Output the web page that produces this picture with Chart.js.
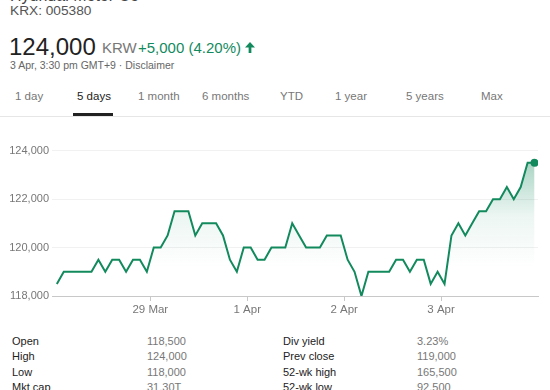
<!DOCTYPE html>
<html>
<head>
  <title>KRX 005380 - 5 days</title>
  <style>
    body {
      margin: 0;
      padding: 0;
      width: 550px;
      height: 390px;
      overflow: hidden;
      background-color: #fff;
      font-family: Arial, "Liberation Sans", sans-serif;
      position: relative;
    }

    .abs { position: absolute; white-space: nowrap; }

    .title { left: 10px; top: -13px; font-size: 16px; color: #444; }
    .ticker { left: 10px; top: 3px; font-size: 13.7px; color: #555; }
    .price { left: 9px; top: 33px; font-size: 24px; color: #222; }
    .currency { left: 102px; top: 39px; font-size: 15px; color: #777; }
    .change { left: 138px; top: 39px; font-size: 15px; color: #138a5e; }
    .stamp { left: 10px; top: 59px; font-size: 10.5px; color: #666; }

    .tab { top: 90px; font-size: 11.5px; color: #777; }
    .tab.active { color: #222; }
    .underline { left: 73px; top: 113px; width: 40px; height: 3px; background: #222; }
    .sep { left: 0; top: 116px; width: 550px; height: 1px; background: #e6e6e6; }

    #chartBox { position: absolute; left: 0; top: 140px; width: 550px; height: 180px; }

    .row { font-size: 11px; }
    .lbl { color: #222; }
    .val { color: #777; }
  </style>
  <script src="https://cdn.jsdelivr.net/npm/chart.js"></script>
</head>
<body>
<div class="abs title">Hyundai Motor Co</div>
<div class="abs ticker">KRX: 005380</div>
<div class="abs price">124,000</div>
<div class="abs currency">KRW</div>
<div class="abs change">+5,000 (4.20%)
  <svg width="10" height="11" viewBox="0 0 11 12" style="vertical-align:0px"><path d="M5.5 0 L11 6 L7 6 L7 12 L4 12 L4 6 L0 6 Z" fill="#138a5e"/></svg>
</div>
<div class="abs stamp">3 Apr, 3:30 pm GMT+9 · Disclaimer</div>

<div class="abs tab" style="left:15px">1 day</div>
<div class="abs tab active" style="left:77px">5 days</div>
<div class="abs tab" style="left:138px">1 month</div>
<div class="abs tab" style="left:202px">6 months</div>
<div class="abs tab" style="left:280px">YTD</div>
<div class="abs tab" style="left:335px">1 year</div>
<div class="abs tab" style="left:406px">5 years</div>
<div class="abs tab" style="left:481px">Max</div>
<div class="abs underline"></div>
<div class="abs sep"></div>

<div id="chartBox"><canvas id="priceChart"></canvas></div>

<div class="abs row lbl" style="left:12px;top:335px">Open</div>
<div class="abs row val" style="left:147px;top:335px">118,500</div>
<div class="abs row lbl" style="left:12px;top:350px">High</div>
<div class="abs row val" style="left:147px;top:350px">124,000</div>
<div class="abs row lbl" style="left:12px;top:366px">Low</div>
<div class="abs row val" style="left:147px;top:366px">118,000</div>
<div class="abs row lbl" style="left:12px;top:381px">Mkt cap</div>
<div class="abs row val" style="left:147px;top:381px">31.30T</div>

<div class="abs row lbl" style="left:283px;top:335px">Div yield</div>
<div class="abs row val" style="left:417px;top:335px">3.23%</div>
<div class="abs row lbl" style="left:283px;top:350px">Prev close</div>
<div class="abs row val" style="left:417px;top:350px">119,000</div>
<div class="abs row lbl" style="left:283px;top:366px">52-wk high</div>
<div class="abs row val" style="left:417px;top:366px">165,500</div>
<div class="abs row lbl" style="left:283px;top:381px">52-wk low</div>
<div class="abs row val" style="left:417px;top:381px">92,500</div>

<script>
  // prices, 14 readings per trading day
  const prices = [
    118500, 119000, 119000, 119000, 119000, 119000, 119500, 119000, 119500, 119500, 119000, 119500, 119500, 119000,
    120000, 120000, 120500, 121500, 121500, 121500, 120500, 121000, 121000, 121000, 120500, 119500, 119000, 120000,
    120000, 119500, 119500, 120000, 120000, 120000, 121000, 120500, 120000, 120000, 120000, 120500, 120500, 120500,
    119500, 119000, 118000, 119000, 119000, 119000, 119000, 119500, 119500, 119000, 119500, 119500, 118500, 119000,
    118500, 120500, 121000, 120500, 121000, 121500, 121500, 122000, 122000, 122500, 122000, 122500, 123500, 123500
  ];
  // day boundaries on the x axis (between readings)
  const dayTicks = [13.5, 27.5, 41.5, 55.5];
  const dayLabels = ['29 Mar', '1 Apr', '2 Apr', '3 Apr'];
  const yTicks = [118000, 120000, 122000, 124000];

  const lineColor = '#138a5e';
  const points = prices.map((p, i) => ({ x: i, y: p }));
  const last = prices.length - 1;

  const ctx = document.getElementById('priceChart').getContext('2d');

  new Chart(ctx, {
    type: 'line',
    data: {
      datasets: [{
        data: points,
        borderColor: lineColor,
        borderWidth: 2,
        tension: 0,
        fill: 'start',
        backgroundColor: function (c) {
          const area = c.chart.chartArea;
          if (!area) return 'rgba(19,138,94,0.1)';
          const g = c.chart.ctx.createLinearGradient(0, area.top, 0, area.bottom);
          g.addColorStop(0, 'rgba(19,138,94,0.42)');
          g.addColorStop(0.45, 'rgba(19,138,94,0.08)');
          g.addColorStop(0.8, 'rgba(19,138,94,0)');
          return g;
        },
        pointRadius: c => c.dataIndex === last ? 4 : 0,
        pointBackgroundColor: lineColor,
        pointBorderColor: lineColor,
        pointBorderWidth: 0
      }]
    },
    options: {
      responsive: true,
      maintainAspectRatio: false,
      animation: false,
      layout: { padding: { top: 10.7, right: 12, left: 0, bottom: 0 } },
      plugins: { legend: { display: false }, tooltip: { enabled: false } },
      scales: {
        x: {
          type: 'linear',
          min: -0.7,
          max: 69.5,
          afterBuildTicks: s => { s.ticks = dayTicks.map(v => ({ value: v })); },
          afterFit: s => { s.height = 24; },
          grid: { drawOnChartArea: false, drawTicks: true, tickLength: 5, color: '#c8c8c8' },
          border: { display: true, color: '#c8c8c8', width: 1 },
          ticks: {
            autoSkip: false,
            maxRotation: 0,
            padding: 2,
            color: '#777',
            font: { size: 11.5, family: 'Arial, "Liberation Sans", sans-serif' },
            callback: v => dayLabels[dayTicks.indexOf(v)]
          }
        },
        y: {
          min: 118000,
          max: 124000,
          afterBuildTicks: s => { s.ticks = yTicks.map(v => ({ value: v })); },
          afterFit: s => { s.width = 52; },
          grid: { drawTicks: false, color: '#f1f1f1' },
          border: { display: false },
          ticks: {
            padding: 3,
            color: '#777',
            font: { size: 11, family: 'Arial, "Liberation Sans", sans-serif' },
            callback: v => v.toLocaleString('en-US')
          }
        }
      }
    }
  });
</script>
</body>
</html>
